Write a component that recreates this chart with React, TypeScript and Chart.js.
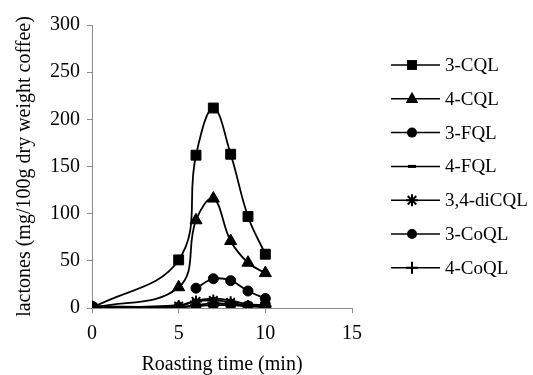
import React, { useEffect, useRef } from "react";
import { Chart, registerables } from "chart.js";

Chart.register(...registerables);

const times = [0, 5, 6, 7, 8, 9, 10];
const seriesNames = ["3-CQL", "4-CQL", "3-FQL", "4-FQL", "3,4-diCQL", "3-CoQL", "4-CoQL"];
const cql3 = [0, 51, 162, 212, 163, 97, 57];
const cql4 = [0, 22, 93, 116, 71, 48, 37];
const fql3 = [null, null, 21, 31, 29, 18, 10];
const fql4 = [0, 3, 8, 10, 8, 4, 3];
const dicql34 = [0, 2, 7, 8, 6, 2, 2];
const coql3 = [2, 1, 2, 3, 3, 2, 4];
const coql4 = [0, 1, 3, 5, 4, 2, 1];
const xTicks = [0, 5, 10, 15];
const yTicks = [0, 50, 100, 150, 200, 250, 300];

const markerStyles = ["rect", "triangle", "circle", "line", "star", "circle", "cross"];
const markerRadius = [7, 7, 5, 4, 6, 5, 6];

const FONT = "'Liberation Serif', 'Times New Roman', serif";

function drawMarker(ctx: CanvasRenderingContext2D, style: string, x: number, y: number, r: number) {
  ctx.save();
  ctx.fillStyle = "#000";
  ctx.strokeStyle = "#000";
  ctx.lineWidth = 2;
  ctx.beginPath();
  if (style === "rect") {
    const s = r * Math.SQRT1_2;
    ctx.rect(x - s, y - s, 2 * s, 2 * s);
    ctx.fill();
  } else if (style === "triangle") {
    ctx.moveTo(x, y - r);
    ctx.lineTo(x + r * 0.9, y + r * 0.6);
    ctx.lineTo(x - r * 0.9, y + r * 0.6);
    ctx.closePath();
    ctx.fill();
  } else if (style === "circle") {
    ctx.arc(x, y, r, 0, Math.PI * 2);
    ctx.fill();
  } else if (style === "line") {
    ctx.lineWidth = 3;
    ctx.moveTo(x - r, y);
    ctx.lineTo(x + r, y);
    ctx.stroke();
  } else if (style === "star") {
    for (let k = 0; k < 4; k++) {
      const a = (k * Math.PI) / 4;
      ctx.moveTo(x - r * Math.cos(a), y - r * Math.sin(a));
      ctx.lineTo(x + r * Math.cos(a), y + r * Math.sin(a));
    }
    ctx.stroke();
  } else if (style === "cross") {
    ctx.moveTo(x - r, y);
    ctx.lineTo(x + r, y);
    ctx.moveTo(x, y - r);
    ctx.lineTo(x, y + r);
    ctx.stroke();
  }
  ctx.restore();
}

const legendPlugin = {
  id: "sideLegend",
  afterDraw(chart: any) {
    const ctx = chart.ctx as CanvasRenderingContext2D;
    ctx.save();
    chart.data.datasets.forEach((ds: any, i: number) => {
      const y = 65 + i * 33.8;
      ctx.strokeStyle = "#000";
      ctx.lineWidth = 1.5;
      ctx.beginPath();
      ctx.moveTo(391, y);
      ctx.lineTo(440, y);
      ctx.stroke();
      drawMarker(ctx, markerStyles[i], 412, y, markerRadius[i]);
      ctx.fillStyle = "#000";
      ctx.font = `19px ${FONT}`;
      ctx.textBaseline = "middle";
      ctx.textAlign = "left";
      ctx.fillText(ds.label, 445, y + 1);
    });
    ctx.restore();
  },
};

export default function App() {
  const ref = useRef<HTMLCanvasElement | null>(null);
  useEffect(() => {
    if (!ref.current) return;
    const values = [cql3, cql4, fql3, fql4, dicql34, coql3, coql4];
    const datasets = values.map((vals, i) => ({
      label: seriesNames[i],
      data: times.map((t, j) => ({ x: t, y: vals[j] })).filter((p) => p.y !== null),
      borderColor: "#000",
      backgroundColor: "#000",
      borderWidth: 1.8,
      pointStyle: markerStyles[i] as any,
      pointRadius: markerRadius[i],
      pointBorderWidth: markerStyles[i] === "line" ? 3 : markerStyles[i] === "star" || markerStyles[i] === "cross" ? 2 : 1,
      pointBackgroundColor: "#000",
      pointBorderColor: "#000",
      tension: 0.4,
      fill: false,
    }));
    const chart = new Chart(ref.current, {
      type: "line",
      data: { datasets },
      options: {
        animation: false,
        responsive: false,
        layout: { padding: { left: 0, right: 181, top: 25, bottom: 0 } },
        plugins: { legend: { display: false }, tooltip: { enabled: false } },
        scales: {
          x: {
            type: "linear",
            min: 0,
            max: 15,
            afterBuildTicks: (s: any) => {
              s.ticks = xTicks.map((v) => ({ value: v }));
            },
            afterFit: (s: any) => {
              s.height = 67;
            },
            ticks: { color: "#000", font: { family: FONT, size: 20 }, padding: 9 },
            grid: { drawOnChartArea: false, drawTicks: true, tickLength: 5, color: "#8c8c8c" },
            border: { display: true, color: "#8c8c8c", width: 1 },
            title: {
              display: true,
              text: "Roasting time (min)",
              color: "#000",
              font: { family: FONT, size: 20, lineHeight: 1.0 },
              padding: { top: 0, bottom: 0 },
            },
          },
          y: {
            type: "linear",
            min: 0,
            max: 300,
            afterBuildTicks: (s: any) => {
              s.ticks = yTicks.map((v) => ({ value: v }));
            },
            afterFit: (s: any) => {
              s.width = 92;
            },
            ticks: { color: "#000", font: { family: FONT, size: 20 }, padding: 7 },
            grid: { drawOnChartArea: false, drawTicks: true, tickLength: 5, color: "#8c8c8c" },
            border: { display: true, color: "#8c8c8c", width: 1 },
            title: {
              display: true,
              text: "lactones (mg/100g dry weight coffee)",
              color: "#000",
              font: { family: FONT, size: 20, lineHeight: 1.2 },
              padding: { top: 13, bottom: 0 },
            },
          },
        },
      },
      plugins: [legendPlugin],
    });
    return () => chart.destroy();
  }, []);
  return (
    <div style={{ position: "absolute", left: 0, top: 0, width: 533, height: 375, background: "#fff" }}>
      <canvas ref={ref} width={533} height={375} />
    </div>
  );
}
